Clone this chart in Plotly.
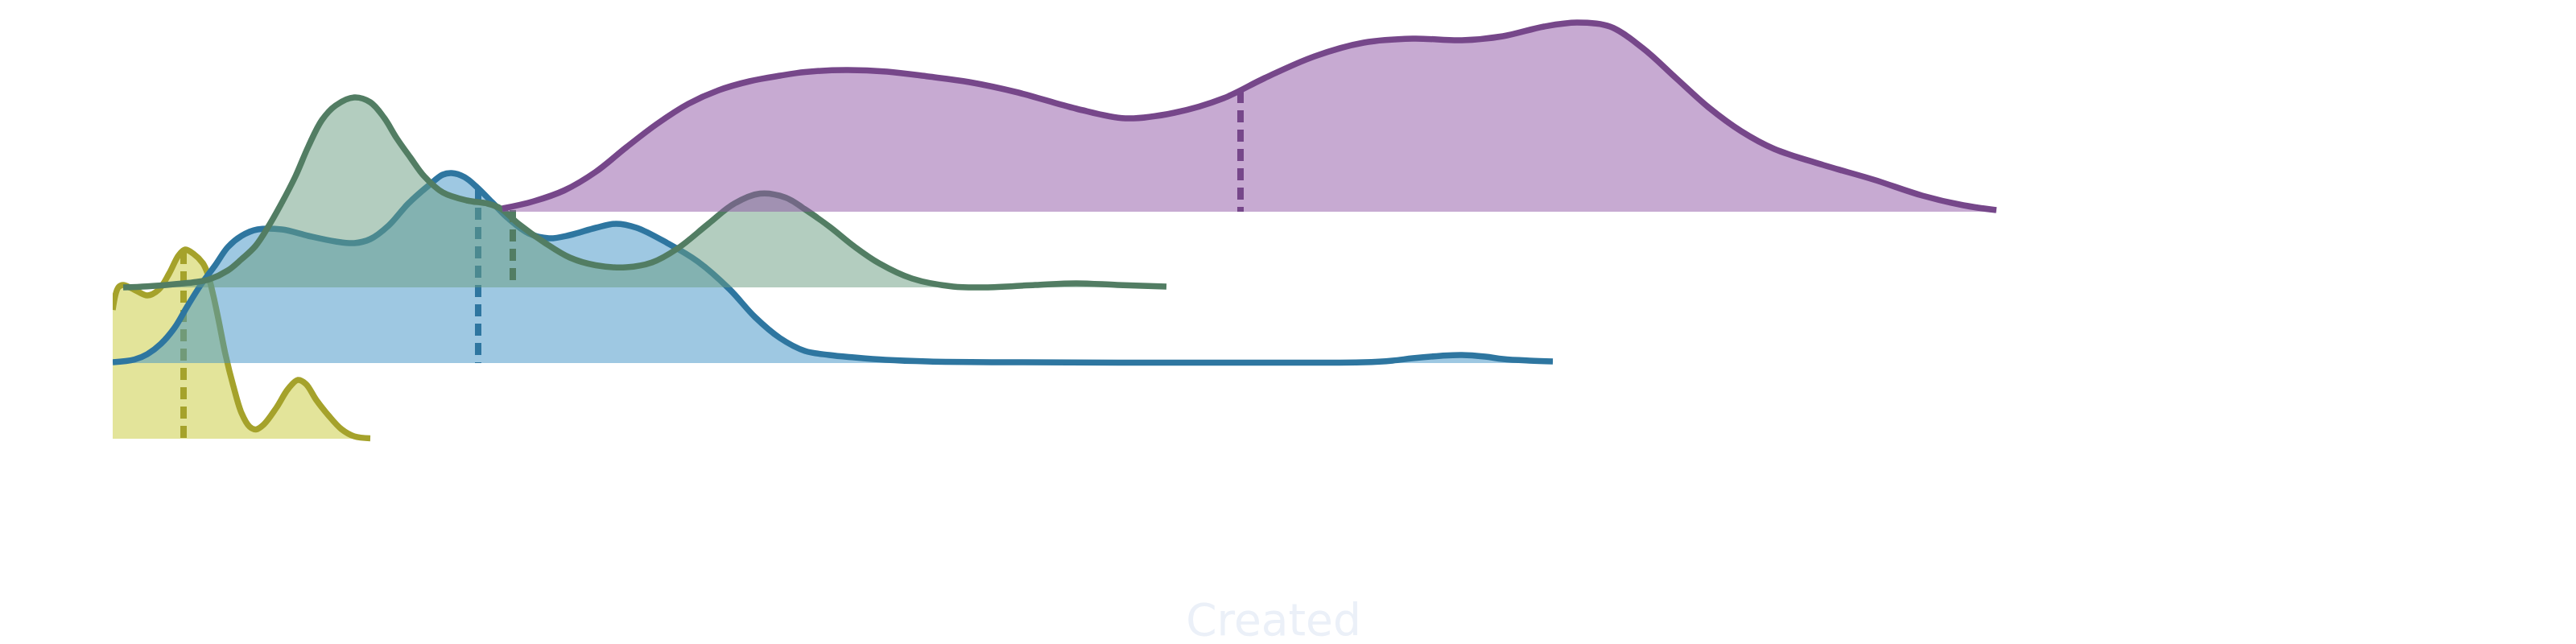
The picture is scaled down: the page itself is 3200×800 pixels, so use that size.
import plotly.graph_objects as go

# ridgeline: one density curve per group, stacked with a fixed offset
groups = ["D", "C", "B", "A"]  # bottom to top
offsets = [0.0, 0.94, 1.88, 2.82]

line_colors = ["#a5a22b", "#2e76a0", "#527d63", "#76478a"]
fill_colors = ["rgba(199,201,53,0.5)", "rgba(61,145,197,0.5)",
               "rgba(103,155,127,0.5)", "rgba(143,85,165,0.5)"]

# density curves (x = created, y = density)
d_x = [0.0, 0.7, 1.3, 2.7, 4.3, 5.7, 7.0, 8.2, 9.0, 10.0, 11.2, 11.8, 12.5, 13.2, 14.0,
       15.0, 16.0, 17.0, 17.8, 18.8, 20.3, 21.8, 23.0, 24.0, 25.3, 26.8, 28.4, 30.0, 32.0]
d_y = [1.60, 1.88, 1.91, 1.85, 1.78, 1.85, 2.05, 2.28, 2.35, 2.30, 2.18, 2.05, 1.78, 1.45, 1.05,
       0.65, 0.32, 0.15, 0.115, 0.18, 0.38, 0.62, 0.73, 0.68, 0.48, 0.29, 0.12, 0.03, 0.005]

c_x = [0.0, 2.7, 4.3, 6.0, 7.7, 9.3, 11.0, 12.7, 14.3, 16.0, 18.0, 21.0, 24.3, 27.7, 30.0,
       32.0, 34.3, 36.7, 39.3, 41.0, 42.1, 43.7, 45.3, 47.2, 49.1, 51.7, 54.2, 56.8, 60.0,
       62.5, 65.1, 68.9, 72.7, 76.6, 79.8, 82.9, 86.0, 89.0, 92.1, 96.0, 101.3, 111.0, 126.8,
       146.0, 155.4, 159.0, 161.5, 165.0, 167.6, 170.5, 172.7, 176.0, 178.9]
c_y = [0.01, 0.043, 0.11, 0.24, 0.44, 0.71, 0.98, 1.21, 1.44, 1.58, 1.66, 1.66, 1.58, 1.51,
       1.49, 1.54, 1.71, 1.98, 2.21, 2.34, 2.36, 2.31, 2.18, 1.99, 1.80, 1.61, 1.55, 1.59,
       1.68, 1.73, 1.68, 1.49, 1.26, 0.92, 0.57, 0.31, 0.15, 0.10, 0.07, 0.04, 0.02, 0.01,
       0.005, 0.005, 0.01, 0.03, 0.06, 0.09, 0.10, 0.08, 0.05, 0.03, 0.02]

b_x = [1.3, 4.3, 7.7, 10.0, 12.0, 14.3, 16.0, 17.7, 19.3, 21.0, 22.7, 24.3, 26.0, 27.7, 30.0,
       32.0, 33.7, 35.3, 37.0, 38.7, 41.0, 44.0, 46.6, 48.2, 50.4, 53.6, 56.8, 60.0, 63.8,
       67.0, 70.2, 74.0, 77.2, 80.4, 83.6, 86.0, 89.1, 92.1, 95.2, 99.3, 104.4, 108.4, 114.6,
       119.7, 124.8, 130.9]
b_y = [0.0, 0.013, 0.04, 0.063, 0.10, 0.21, 0.35, 0.51, 0.75, 1.05, 1.38, 1.75, 2.08, 2.26,
       2.36, 2.30, 2.11, 1.85, 1.61, 1.38, 1.18, 1.08, 1.04, 0.98, 0.79, 0.56, 0.37, 0.275,
       0.25, 0.31, 0.485, 0.79, 1.04, 1.165, 1.115, 0.97, 0.75, 0.51, 0.30, 0.11, 0.01, 0.0,
       0.03, 0.05, 0.03, 0.01]

a_x = [48.4, 52.3, 56.1, 60.0, 63.8, 67.6, 71.5, 75.3, 79.1, 82.9, 86.0, 91.1, 96.2, 101.3,
       106.4, 112.5, 119.7, 125.8, 131.9, 138.0, 143.1, 149.3, 155.4, 161.5, 167.6, 172.7,
       177.8, 181.9, 186.0, 190.1, 194.2, 198.2, 202.3, 206.4, 212.5, 218.7, 224.8, 229.9,
       234.0]
a_y = [0.04, 0.13, 0.265, 0.495, 0.80, 1.09, 1.34, 1.51, 1.62, 1.69, 1.735, 1.76, 1.74,
       1.68, 1.61, 1.48, 1.28, 1.16, 1.23, 1.41, 1.66, 1.93, 2.10, 2.15, 2.13, 2.18, 2.30,
       2.35, 2.30, 2.03, 1.66, 1.30, 1.00, 0.78, 0.58, 0.40, 0.20, 0.08, 0.02]

curves_x = [d_x, c_x, b_x, a_x]
curves_y = [d_y, c_y, b_y, a_y]

# medians and the curve height at the median
medians = [8.8, 45.4, 49.7, 140.1]
median_heights = [2.32, 2.17, 0.96, 1.50]

fig = go.Figure()
for i in range(len(groups)):
    off = offsets[i]
    xs = curves_x[i]
    # baseline for the fill
    fig.add_trace(go.Scatter(x=[xs[0], xs[-1]], y=[off, off], mode="lines",
                             line=dict(width=0), hoverinfo="skip", showlegend=False))
    fig.add_trace(go.Scatter(x=xs, y=[v + off for v in curves_y[i]], mode="lines",
                             line=dict(color=line_colors[i], width=7.5, shape="spline", smoothing=1),
                             fill="tonexty", fillcolor=fill_colors[i],
                             name=groups[i], showlegend=False))
    # dashed median
    fig.add_trace(go.Scatter(x=[medians[i], medians[i]], y=[off + median_heights[i], off],
                             mode="lines", line=dict(color=line_colors[i], width=8, dash="15px,9px"),
                             hoverinfo="skip", showlegend=False))

fig.update_layout(
    width=3200, height=800,
    margin=dict(l=132, r=184, t=2, b=108),
    paper_bgcolor="white", plot_bgcolor="white",
    font=dict(family="DejaVu Sans"),
)
fig.update_xaxes(range=[0, 288.4], showgrid=False, zeroline=False, showticklabels=False,
                 showline=False, ticks="",
                 title=dict(text="Created", font=dict(size=55, color="#EBF0F8"), standoff=50))
fig.update_yaxes(range=[-1.55, 5.35], showgrid=False, zeroline=False, showticklabels=False,
                 showline=False, ticks="")
fig.write_html("out.html")
